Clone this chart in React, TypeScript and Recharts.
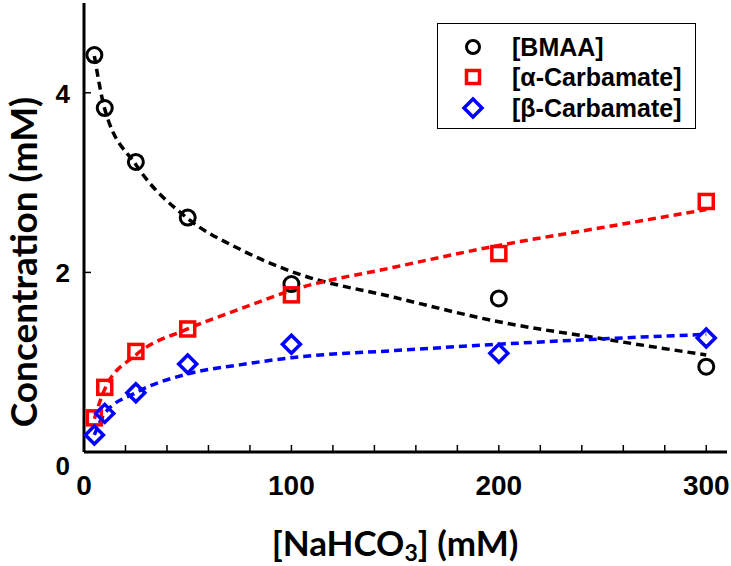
import { ComposedChart, Line, Scatter, XAxis, YAxis, Label } from 'recharts'

// measured points
const concX = [5, 10, 25, 50, 100, 200, 300]
const bmaa = [4.42, 3.83, 3.23, 2.61, 1.87, 1.71, 0.95]
const alphaCarb = [0.38, 0.72, 1.12, 1.37, 1.75, 2.21, 2.79]
const betaCarb = [0.19, 0.43, 0.66, 0.98, 1.2, 1.1, 1.27]

// fitted curves
const fitX = [5, 10, 25, 50, 75, 100, 150, 200, 250, 300]
const bmaaFit = [4.41, 3.82, 3.2, 2.6, 2.26, 2.01, 1.72, 1.45, 1.26, 1.08]
const alphaFit = [0.37, 0.7, 1.08, 1.37, 1.59, 1.8, 2.06, 2.3, 2.5, 2.7]
const betaFit = [0.19, 0.43, 0.66, 0.87, 0.97, 1.05, 1.13, 1.2, 1.26, 1.31]

const xTicks = [0, 20, 40, 60, 80, 100, 120, 140, 160, 180, 200, 220, 240, 260, 280, 300]
const yTicks = [0, 2, 4]

const RED = '#ff0000'
const BLUE = '#0000ff'
const tickFont = '"Liberation Sans", Arial, sans-serif'
const titleFont = 'Lato, "Open Sans", sans-serif'

const rows = (xs: number[], ys: number[]) => xs.map((x, i) => ({ x, y: ys[i] }))

const BottomTick = (p: any) => {
  const { x, y, payload } = p
  const v = payload.value
  return (
    <g>
      <line x1={x} x2={x} y1={y} y2={y - 7} stroke="#000" strokeWidth={1.5} />
      {v % 100 === 0 && (
        <text x={x} y={y + 43} textAnchor="middle" fontFamily={tickFont} fontWeight="bold" fontSize={28} fill="#000">
          {v}
        </text>
      )}
    </g>
  )
}

const TopTick = (p: any) => (
  <line x1={p.x} x2={p.x} y1={p.y} y2={p.y + 7} stroke="#000" strokeWidth={1.5} />
)

const LeftTick = (p: any) => {
  const { x, y, payload } = p
  // the zero label sits a little lower, clear of the x axis "0"
  const dy = payload.value === 0 ? 23 : 10
  return (
    <g>
      <line x1={x} x2={x + 7} y1={y} y2={y} stroke="#000" strokeWidth={1.5} />
      <text x={x - 14} y={y + dy} textAnchor="end" fontFamily={tickFont} fontWeight="bold" fontSize={26} fill="#000">
        {payload.value}
      </text>
    </g>
  )
}

const RightTick = (p: any) => (
  <line x1={p.x} x2={p.x - 7} y1={p.y} y2={p.y} stroke="#000" strokeWidth={1.5} />
)

const circleShape = (p: any) => (
  <circle cx={p.cx} cy={p.cy} r={7.5} fill="none" stroke="#000" strokeWidth={3} />
)
const squareShape = (p: any) => (
  <rect x={p.cx - 7} y={p.cy - 7} width={14} height={14} fill="none" stroke={RED} strokeWidth={3.5} />
)
const diamondShape = (p: any) => (
  <path
    d={`M${p.cx},${p.cy - 9} L${p.cx + 9},${p.cy} L${p.cx},${p.cy + 9} L${p.cx - 9},${p.cy} Z`}
    fill="none"
    stroke={BLUE}
    strokeWidth={3.5}
  />
)

export default function App() {
  const dash = '8 5'
  return (
    <div style={{ position: 'absolute', left: 0, top: 0, width: 731, height: 566, background: '#fff' }}>
      <ComposedChart width={731} height={566} margin={{ top: 3, right: 4, bottom: 0, left: 0 }}>
        <XAxis
          dataKey="x"
          type="number"
          domain={[0, 310]}
          ticks={xTicks}
          interval={0}
          height={114}
          tickSize={0}
          tickMargin={0}
          tick={BottomTick}
          axisLine={{ stroke: '#000', strokeWidth: 3 }}
        >
          <Label
            content={() => (
              <text x={395} y={556} textAnchor="middle" fontFamily={titleFont} fontWeight="bold" fontSize={35} fill="#000">
                [NaHCO<tspan fontSize={23} dy={5}>3</tspan>
                <tspan dy={-5}>] (mM)</tspan>
              </text>
            )}
          />
        </XAxis>
        <XAxis
          xAxisId="top"
          orientation="top"
          dataKey="x"
          type="number"
          domain={[0, 310]}
          ticks={xTicks}
          interval={0}
          height={0}
          tickSize={0}
          tickMargin={0}
          tick={TopTick}
          axisLine={{ stroke: '#000', strokeWidth: 3 }}
        />
        <YAxis
          type="number"
          domain={[0, 5]}
          ticks={yTicks}
          interval={0}
          width={84}
          tickSize={0}
          tickMargin={0}
          tick={LeftTick}
          axisLine={{ stroke: '#000', strokeWidth: 3 }}
        >
          <Label
            content={() => (
              <text
                x={37}
                y={262}
                transform="rotate(-90 37 262)"
                textAnchor="middle"
                fontFamily={titleFont}
                fontWeight="bold"
                fontSize={37}
                fill="#000"
              >
                Concentration (mM)
              </text>
            )}
          />
        </YAxis>
        <YAxis
          yAxisId="right"
          orientation="right"
          type="number"
          domain={[0, 5]}
          ticks={yTicks}
          interval={0}
          width={0}
          tickSize={0}
          tickMargin={0}
          tick={RightTick}
          axisLine={{ stroke: '#000', strokeWidth: 3 }}
        />

        <Line data={rows(fitX, bmaaFit)} dataKey="y" type="monotone" stroke="#000" strokeWidth={3.5} strokeDasharray={dash} dot={false} isAnimationActive={false} />
        <Line data={rows(fitX, alphaFit)} dataKey="y" type="monotone" stroke={RED} strokeWidth={3.5} strokeDasharray={dash} dot={false} isAnimationActive={false} />
        <Line data={rows(fitX, betaFit)} dataKey="y" type="monotone" stroke={BLUE} strokeWidth={3.5} strokeDasharray={dash} dot={false} isAnimationActive={false} />

        <Scatter data={rows(concX, bmaa)} dataKey="y" shape={circleShape} isAnimationActive={false} />
        <Scatter data={rows(concX, alphaCarb)} dataKey="y" shape={squareShape} isAnimationActive={false} />
        <Scatter data={rows(concX, betaCarb)} dataKey="y" shape={diamondShape} isAnimationActive={false} />
      </ComposedChart>

      {/* legend box */}
      <div
        style={{
          position: 'absolute',
          left: 437,
          top: 23,
          width: 259,
          height: 106,
          border: '1px solid #000',
          background: '#fff',
          boxSizing: 'border-box',
        }}
      >
        <svg width={259} height={106} style={{ position: 'absolute', left: 0, top: 0 }}>
          <circle cx={35} cy={23} r={6.5} fill="none" stroke="#000" strokeWidth={3} />
          <rect x={28.5} y={46.5} width={13} height={13} fill="none" stroke={RED} strokeWidth={3.5} />
          <path d="M35,75 L44,84 L35,93 L26,84 Z" fill="none" stroke={BLUE} strokeWidth={3.5} />
          <g fontFamily='"Liberation Sans", Arial, sans-serif' fontWeight="bold" fontSize={25} fill="#000">
            <text x={74} y={32}>[BMAA]</text>
            <text x={74} y={62}>[α-Carbamate]</text>
            <text x={74} y={93}>[β-Carbamate]</text>
          </g>
        </svg>
      </div>
    </div>
  )
}
